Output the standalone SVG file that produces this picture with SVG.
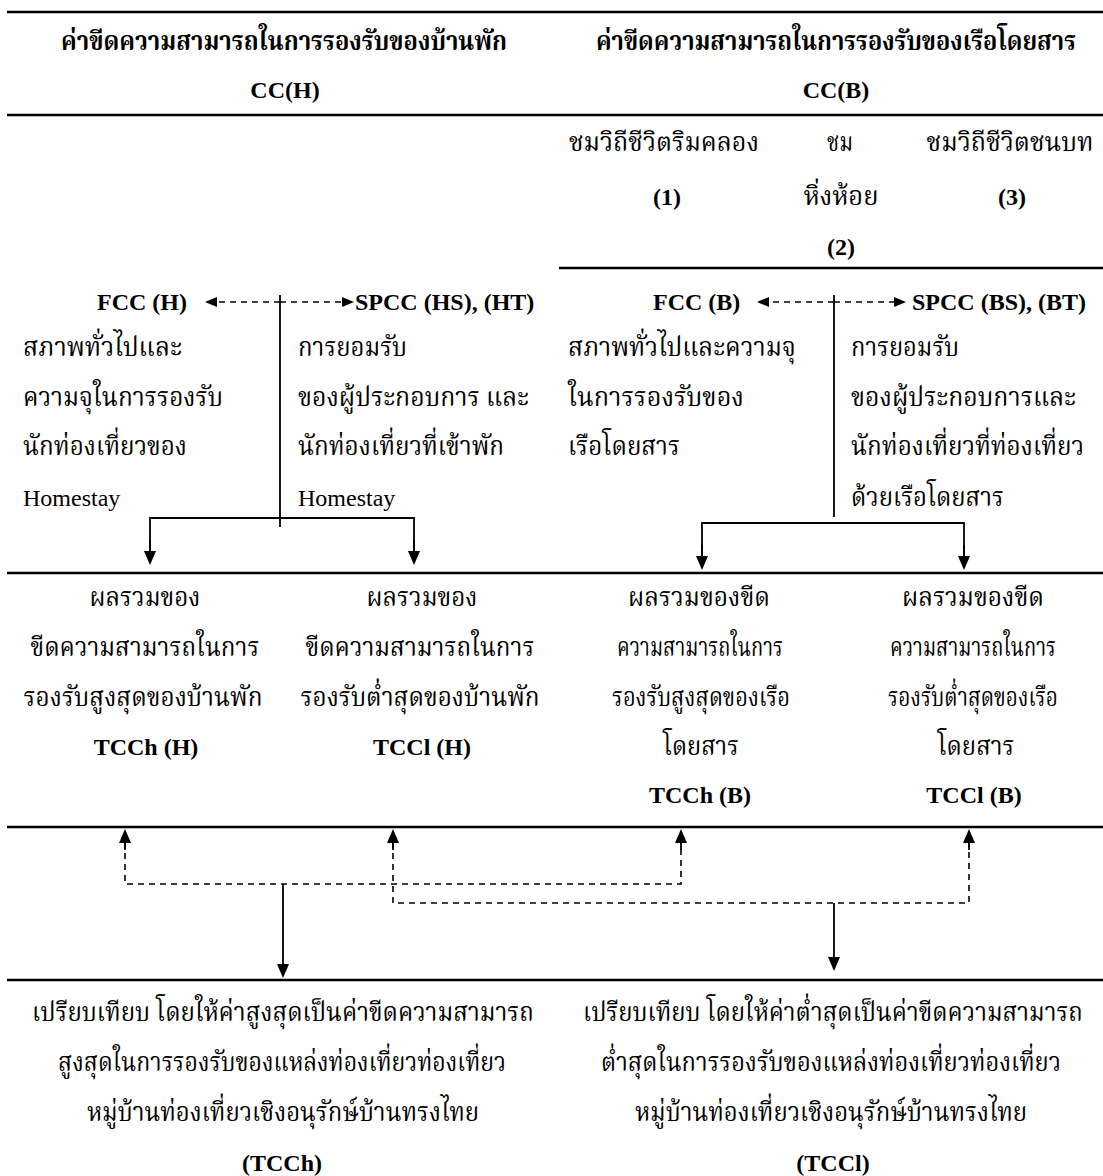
<svg xmlns="http://www.w3.org/2000/svg" width="1103" height="1176" viewBox="0 0 1103 1176">
<style>
.th{font-family:'Liberation Serif','Noto Serif Thai','Noto Sans Thai',serif;font-size:26px;fill:#000}
.lt{font-family:'Liberation Serif','Times New Roman',serif;font-size:24px;fill:#000}
.b{font-weight:bold}
.m{text-anchor:middle}
.rule{stroke:#000;stroke-width:2.5;fill:none}
.sol{stroke:#000;stroke-width:1.8;fill:none}
.dash{stroke:#000;stroke-width:1.6;fill:none;stroke-dasharray:6 5}
</style>
<defs>
<marker id="ah" markerUnits="userSpaceOnUse" viewBox="0 0 14 12" markerWidth="14" markerHeight="12" refX="4" refY="6" orient="auto"><path d="M0,0 L14,6 L0,12 z" fill="#000"/></marker>
<marker id="ahs" markerUnits="userSpaceOnUse" viewBox="0 0 12 10" markerWidth="12" markerHeight="10" refX="3" refY="5" orient="auto"><path d="M0,0 L12,5 L0,10 z" fill="#000"/></marker>
</defs>
<rect width="1103" height="1176" fill="#fff"/>
<g id="rules">
<line class="rule" x1="7" y1="12" x2="1103" y2="12"/>
<line class="rule" x1="7" y1="115" x2="1103" y2="115"/>
<line class="rule" x1="559" y1="268" x2="1103" y2="268"/>
<line class="rule" x1="7" y1="573" x2="1103" y2="573"/>
<line class="rule" x1="7" y1="827" x2="1103" y2="827"/>
<line class="rule" x1="7" y1="980" x2="1103" y2="980"/>
</g>
<g id="header-h">
<text class="th b m" x="284" y="50" textLength="446" lengthAdjust="spacingAndGlyphs">ค่าขีดความสามารถในการรองรับของบ้านพัก</text>
<text class="lt b m" x="285" y="98">CC(H)</text>
</g>
<g id="header-b">
<text class="th b m" x="836" y="50" textLength="480" lengthAdjust="spacingAndGlyphs">ค่าขีดความสามารถในการรองรับของเรือโดยสาร</text>
<text class="lt b m" x="836" y="98">CC(B)</text>
</g>
<g id="route-1">
<text class="th m" x="664" y="151" textLength="190" lengthAdjust="spacingAndGlyphs">ชมวิถีชีวิตริมคลอง</text>
<text class="lt b m" x="667" y="205">(1)</text>
</g>
<g id="route-2">
<text class="th m" x="840" y="151" textLength="26" lengthAdjust="spacingAndGlyphs">ชม</text>
<text class="th m" x="841" y="205" textLength="75" lengthAdjust="spacingAndGlyphs">หิ่งห้อย</text>
<text class="lt b m" x="841" y="255">(2)</text>
</g>
<g id="route-3">
<text class="th m" x="1010" y="151" textLength="167" lengthAdjust="spacingAndGlyphs">ชมวิถีชีวิตชนบท</text>
<text class="lt b m" x="1012" y="205">(3)</text>
</g>
<g id="fcc-h">
<text class="lt b" x="97" y="310">FCC (H)</text>
<text class="th" x="23" y="356" textLength="159" lengthAdjust="spacingAndGlyphs">สภาพทั่วไปและ</text>
<text class="th" x="23" y="406" textLength="200" lengthAdjust="spacingAndGlyphs">ความจุในการรองรับ</text>
<text class="th" x="23" y="455" textLength="164" lengthAdjust="spacingAndGlyphs">นักท่องเที่ยวของ</text>
<text class="lt" x="23" y="506">Homestay</text>
</g>
<g id="spcc-h">
<text class="lt b" x="355" y="310">SPCC (HS), (HT)</text>
<text class="th" x="298" y="356" textLength="109" lengthAdjust="spacingAndGlyphs">การยอมรับ</text>
<text class="th" x="298" y="406" textLength="231" lengthAdjust="spacingAndGlyphs">ของผู้ประกอบการ และ</text>
<text class="th" x="298" y="455" textLength="206" lengthAdjust="spacingAndGlyphs">นักท่องเที่ยวที่เข้าพัก</text>
<text class="lt" x="298" y="506">Homestay</text>
</g>
<g id="fcc-b">
<text class="lt b" x="653" y="310">FCC (B)</text>
<text class="th" x="568" y="356" textLength="228" lengthAdjust="spacingAndGlyphs">สภาพทั่วไปและความจุ</text>
<text class="th" x="568" y="406" textLength="176" lengthAdjust="spacingAndGlyphs">ในการรองรับของ</text>
<text class="th" x="568" y="455" textLength="112" lengthAdjust="spacingAndGlyphs">เรือโดยสาร</text>
</g>
<g id="spcc-b">
<text class="lt b" x="912" y="310">SPCC (BS), (BT)</text>
<text class="th" x="851" y="356" textLength="108" lengthAdjust="spacingAndGlyphs">การยอมรับ</text>
<text class="th" x="851" y="406" textLength="225" lengthAdjust="spacingAndGlyphs">ของผู้ประกอบการและ</text>
<text class="th" x="851" y="455" textLength="233" lengthAdjust="spacingAndGlyphs">นักท่องเที่ยวที่ท่องเที่ยว</text>
<text class="th" x="851" y="506" textLength="153" lengthAdjust="spacingAndGlyphs">ด้วยเรือโดยสาร</text>
</g>
<g id="tcch-h">
<text class="th m" x="145" y="606" textLength="111" lengthAdjust="spacingAndGlyphs">ผลรวมของ</text>
<text class="th m" x="145" y="656" textLength="229" lengthAdjust="spacingAndGlyphs">ขีดความสามารถในการ</text>
<text class="th m" x="143" y="706" textLength="239" lengthAdjust="spacingAndGlyphs">รองรับสูงสุดของบ้านพัก</text>
<text class="lt b m" x="146" y="755">TCCh (H)</text>
</g>
<g id="tccl-h">
<text class="th m" x="422" y="606" textLength="111" lengthAdjust="spacingAndGlyphs">ผลรวมของ</text>
<text class="th m" x="420" y="656" textLength="229" lengthAdjust="spacingAndGlyphs">ขีดความสามารถในการ</text>
<text class="th m" x="420" y="706" textLength="239" lengthAdjust="spacingAndGlyphs">รองรับต่ำสุดของบ้านพัก</text>
<text class="lt b m" x="422" y="755">TCCl (H)</text>
</g>
<g id="tcch-b">
<text class="th m" x="699" y="606" textLength="142" lengthAdjust="spacingAndGlyphs">ผลรวมของขีด</text>
<text class="th m" x="700" y="656" textLength="166" lengthAdjust="spacingAndGlyphs">ความสามารถในการ</text>
<text class="th m" x="701" y="706" textLength="178" lengthAdjust="spacingAndGlyphs">รองรับสูงสุดของเรือ</text>
<text class="th m" x="701" y="755" textLength="76" lengthAdjust="spacingAndGlyphs">โดยสาร</text>
<text class="lt b m" x="700" y="803">TCCh (B)</text>
</g>
<g id="tccl-b">
<text class="th m" x="973" y="606" textLength="142" lengthAdjust="spacingAndGlyphs">ผลรวมของขีด</text>
<text class="th m" x="973" y="656" textLength="166" lengthAdjust="spacingAndGlyphs">ความสามารถในการ</text>
<text class="th m" x="973" y="706" textLength="170" lengthAdjust="spacingAndGlyphs">รองรับต่ำสุดของเรือ</text>
<text class="th m" x="976" y="755" textLength="77" lengthAdjust="spacingAndGlyphs">โดยสาร</text>
<text class="lt b m" x="974" y="803">TCCl (B)</text>
</g>
<g id="tcch">
<text class="th m" x="283" y="1021" textLength="502" lengthAdjust="spacingAndGlyphs">เปรียบเทียบ โดยให้ค่าสูงสุดเป็นค่าขีดความสามารถ</text>
<text class="th m" x="282" y="1071" textLength="448" lengthAdjust="spacingAndGlyphs">สูงสุดในการรองรับของแหล่งท่องเที่ยวท่องเที่ยว</text>
<text class="th m" x="283" y="1121" textLength="392" lengthAdjust="spacingAndGlyphs">หมู่บ้านท่องเที่ยวเชิงอนุรักษ์บ้านทรงไทย</text>
<text class="lt b m" x="282" y="1171">(TCCh)</text>
</g>
<g id="tccl">
<text class="th m" x="833" y="1021" textLength="500" lengthAdjust="spacingAndGlyphs">เปรียบเทียบ โดยให้ค่าต่ำสุดเป็นค่าขีดความสามารถ</text>
<text class="th m" x="831" y="1071" textLength="460" lengthAdjust="spacingAndGlyphs">ต่ำสุดในการรองรับของแหล่งท่องเที่ยวท่องเที่ยว</text>
<text class="th m" x="831" y="1121" textLength="392" lengthAdjust="spacingAndGlyphs">หมู่บ้านท่องเที่ยวเชิงอนุรักษ์บ้านทรงไทย</text>
<text class="lt b m" x="833" y="1171">(TCCl)</text>
</g>
<g id="connectors">
<line class="dash" x1="280" y1="302" x2="214" y2="302" marker-end="url(#ahs)"/>
<line class="dash" x1="280" y1="302" x2="345" y2="302" marker-end="url(#ahs)"/>
<line class="sol" x1="280" y1="295" x2="280" y2="527"/>
<polyline class="sol" points="150,555 150,518 414,518 414,555"/>
<line class="sol" x1="150" y1="540" x2="150" y2="555" marker-end="url(#ah)"/>
<line class="sol" x1="414" y1="540" x2="414" y2="555" marker-end="url(#ah)"/>
<line class="dash" x1="834" y1="302" x2="766" y2="302" marker-end="url(#ahs)"/>
<line class="dash" x1="834" y1="302" x2="897" y2="302" marker-end="url(#ahs)"/>
<line class="sol" x1="834" y1="295" x2="834" y2="517"/>
<polyline class="sol" points="702,560 702,523 964,523 964,560"/>
<line class="sol" x1="702" y1="545" x2="702" y2="560" marker-end="url(#ah)"/>
<line class="sol" x1="964" y1="545" x2="964" y2="560" marker-end="url(#ah)"/>
<polyline class="dash" points="125,842 125,884 681,884 681,842"/>
<line class="sol" x1="125" y1="850" x2="125" y2="839" marker-end="url(#ah)"/>
<line class="sol" x1="681" y1="850" x2="681" y2="839" marker-end="url(#ah)"/>
<polyline class="dash" points="393,842 393,903 969,903 969,842"/>
<line class="sol" x1="393" y1="850" x2="393" y2="839" marker-end="url(#ah)"/>
<line class="sol" x1="969" y1="850" x2="969" y2="839" marker-end="url(#ah)"/>
<line class="sol" x1="283" y1="884" x2="283" y2="968" marker-end="url(#ah)"/>
<line class="sol" x1="834" y1="903" x2="834" y2="961" marker-end="url(#ah)"/>
</g>
</svg>
